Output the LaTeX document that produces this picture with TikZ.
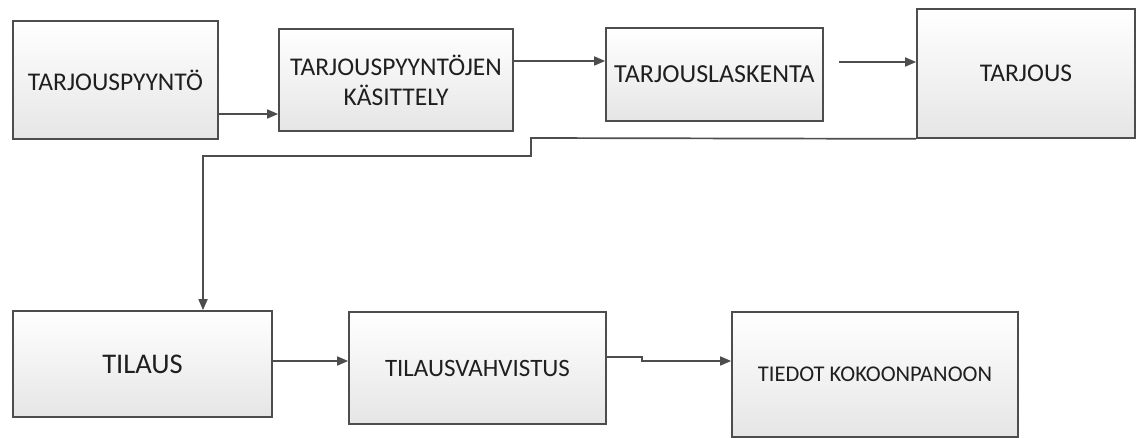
\documentclass[tikz,border=0pt]{standalone}
\usepackage{fontspec}
\setmainfont{Carlito}
\usepackage{tikz}
\usetikzlibrary{arrows.meta,positioning}

\definecolor{linegray}{HTML}{4D4D4D}
\definecolor{textgray}{HTML}{1F1F1F}

\tikzset{
  box/.style={draw=linegray, line width=1.7pt, top color=white, bottom color=black!10,
              text=textgray, align=center, inner sep=0pt,
              font=\fontsize{25.5}{30}\selectfont},
  arr/.style={draw=linegray, line width=1.7pt, -{Triangle[length=11pt,width=9pt]}}
}

\begin{document}
\begin{tikzpicture}[x=1pt,y=-1pt]
\useasboundingbox (0,0) rectangle (1137,438);

% upper row
\node[box, minimum width=205pt, minimum height=118pt] (req) at (115.5,80) {TARJOUSPYYNTÖ};
\node[box, minimum width=234pt, minimum height=102pt] (handling) at (396,80) {TARJOUSPYYNTÖJEN\\KÄSITTELY};
\node[box, minimum width=217pt, minimum height=93pt, font=\fontsize{26}{30}\selectfont] (calc) at (714.5,74.5) {TARJOUSLASKENTA};
\node[box, minimum width=218pt, minimum height=129pt] (offer) at (1026,73.5) {TARJOUS};

% lower row
\node[box, minimum width=259pt, minimum height=106pt, font=\fontsize{28.5}{32}\selectfont] (order) at (142.5,364) {TILAUS};
\node[box, minimum width=257pt, minimum height=112pt, font=\fontsize{25}{30}\selectfont] (confirm) at (477.5,368) {TILAUSVAHVISTUS};
\node[box, minimum width=286pt, minimum height=125pt, font=\fontsize{22.5}{26}\selectfont] (assembly) at (875,374.5) {TIEDOT KOKOONPANOON};

\coordinate (calcout) at (839,62);
\coordinate (bend) at (203,156);

\draw[arr] (req.east |- 0,114) -- (handling.west |- 0,114);
\draw[arr] (handling.east |- 0,61) -- (calc.west |- 0,61);
\draw[arr] (calcout) -- (offer.west |- calcout);
\draw[arr] (offer.south west) -- (531,138) |- (bend) -- (bend |- order.north);
\draw[arr] (order.east |- 0,361) -- (confirm.west |- 0,361);
\draw[arr] (confirm.east |- 0,357) -- (642,357) -- (642,361) -- (assembly.west |- 0,361);

\end{tikzpicture}
\end{document}
